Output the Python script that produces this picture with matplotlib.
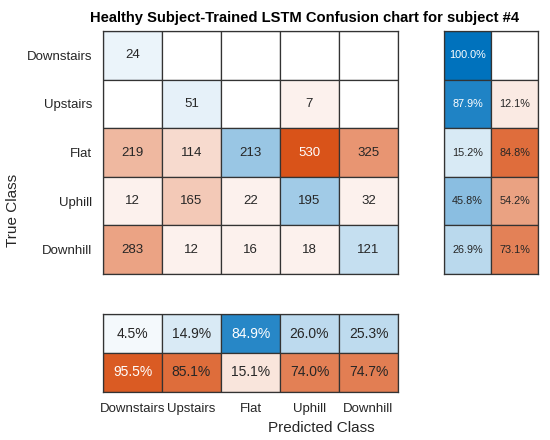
import numpy as np
import matplotlib
matplotlib.use("Agg")
import matplotlib.pyplot as plt
from matplotlib.patches import Rectangle

plt.rcParams['font.family'] = ['Liberation Sans', 'DejaVu Sans']

classes = ["Downstairs", "Upstairs", "Flat", "Uphill", "Downhill"]
counts = np.array([
    [24, 0, 0, 0, 0],
    [0, 51, 0, 7, 0],
    [219, 114, 213, 530, 325],
    [12, 165, 22, 195, 32],
    [283, 12, 16, 18, 121],
])
row_correct = [100.0, 87.9, 15.2, 45.8, 26.9]
row_wrong = [0.0, 12.1, 84.8, 54.2, 73.1]
col_correct = [4.5, 14.9, 84.9, 26.0, 25.3]
col_wrong = [95.5, 85.1, 15.1, 74.0, 74.7]
title = "Healthy Subject-Trained LSTM Confusion chart for subject #4"

DIAG = np.array([0.0, 0.4470, 0.7410])
OFF = np.array([0.8500, 0.3250, 0.0980])
EDGE = '#333333'
TXT = '#262626'


def blend(base, a):
    return 1 - a * (1 - base)


def lum(c):
    return 0.299 * c[0] + 0.587 * c[1] + 0.114 * c[2]


def cell(ax, x, y, val, a, base, label, fs):
    if val == 0:
        face = (1, 1, 1)
    else:
        face = blend(base, a)
    ax.add_patch(Rectangle((x - 0.5, y - 0.5), 1, 1, facecolor=face,
                           edgecolor=EDGE, linewidth=0.9))
    if val != 0:
        tc = 'white' if lum(face) < 0.51 else TXT
        ax.text(x, y, label, ha='center', va='center', fontsize=fs, color=tc)


W, H = 550, 440
fig = plt.figure(figsize=(W / 100, H / 100), dpi=100)


def axes_px(l, t, r, b):
    return fig.add_axes([l / W, 1 - b / H, (r - l) / W, (b - t) / H])


ax = axes_px(103, 31, 398, 274)
axr = axes_px(444, 31, 538, 274)
axb = axes_px(103, 314, 398, 392)

n = len(classes)
mx = counts.max()
for i in range(n):
    for j in range(n):
        v = counts[i, j]
        a = max(v / mx, 0.08)
        cell(ax, j, i, v, a, DIAG if i == j else OFF, str(v), 9.5)
ax.set_xlim(-0.5, n - 0.5)
ax.set_ylim(n - 0.5, -0.5)
ax.set_yticks(range(n))
ax.set_yticklabels(classes, fontsize=9.5, color=TXT)
ax.set_xticks([])
ax.tick_params(axis='y', length=0, pad=8)

for i in range(n):
    cell(axr, 0, i, row_correct[i], row_correct[i] / 100, DIAG, f"{row_correct[i]:.1f}%", 7.8)
    cell(axr, 1, i, row_wrong[i], row_wrong[i] / 100, OFF, f"{row_wrong[i]:.1f}%", 7.8)
axr.set_xlim(-0.5, 1.5)
axr.set_ylim(n - 0.5, -0.5)
axr.set_xticks([])
axr.set_yticks([])

for j in range(n):
    cell(axb, j, 0, col_correct[j], col_correct[j] / 100, DIAG, f"{col_correct[j]:.1f}%", 10)
    cell(axb, j, 1, col_wrong[j], col_wrong[j] / 100, OFF, f"{col_wrong[j]:.1f}%", 10)
axb.set_xlim(-0.5, n - 0.5)
axb.set_ylim(1.5, -0.5)
axb.set_yticks([])
axb.set_xticks(range(n))
axb.set_xticklabels(classes, fontsize=9.5, color=TXT)
axb.tick_params(axis='x', length=0, pad=8)

for a_ in (ax, axr, axb):
    for s in a_.spines.values():
        s.set_color(EDGE)
        s.set_linewidth(0.9)

fig.text(304.5 / W, 1 - 18 / H, title, ha='center', va='center',
         fontsize=10.6, fontweight='bold', color='black')
fig.text(13 / W, 1 - 210 / H, "True Class", ha='center', va='center',
         rotation=90, fontsize=11, color=TXT)
fig.text(321 / W, 1 - 428 / H, "Predicted Class", ha='center', va='center',
         fontsize=11, color=TXT)

fig.savefig("out.png", dpi=100)
